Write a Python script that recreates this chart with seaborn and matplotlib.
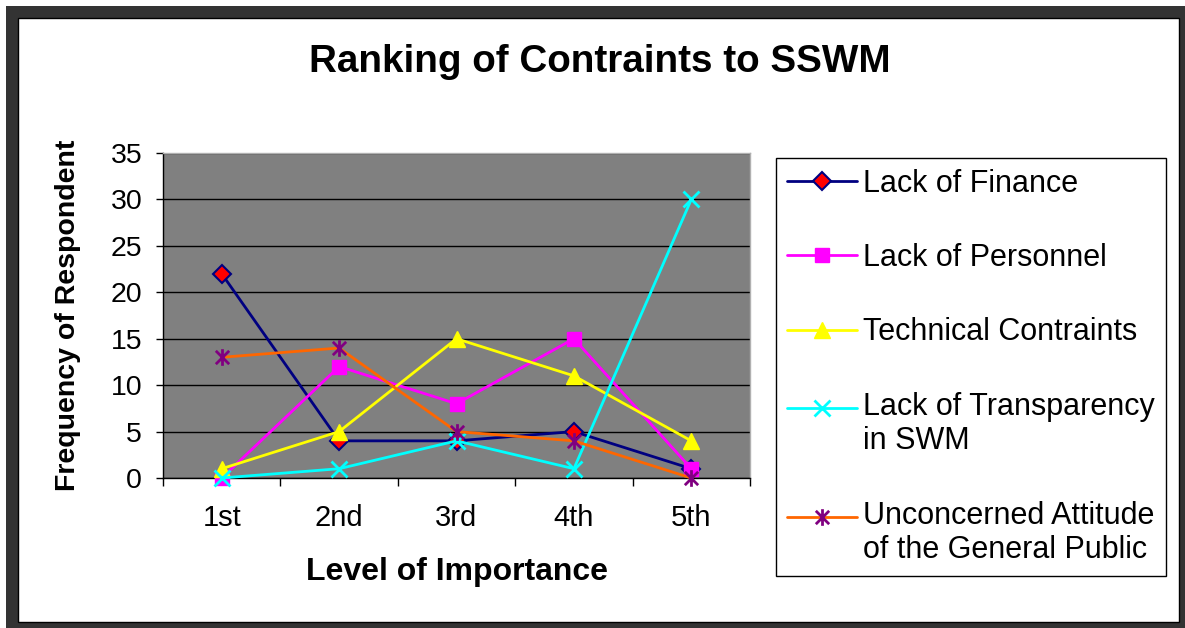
import matplotlib
matplotlib.use('Agg')
import matplotlib.pyplot as plt
import seaborn as sns
from matplotlib.patches import Rectangle
from matplotlib.path import Path
from matplotlib.legend_handler import HandlerLine2D

# ---- data ----
levels = ['1st', '2nd', '3rd', '4th', '5th']
lack_of_finance = [22, 4, 4, 5, 1]
lack_of_personnel = [0, 12, 8, 15, 1]
technical_contraints = [1, 5, 15, 11, 4]
lack_of_transparency = [0, 1, 4, 1, 30]
unconcerned_attitude = [13, 14, 5, 4, 0]
series_labels = ['Lack of Finance', 'Lack of Personnel', 'Technical Contraints',
                 'Lack of Transparency\nin SWM', 'Unconcerned Attitude\nof the General Public']
y_ticks = [0, 5, 10, 15, 20, 25, 30, 35]
title = 'Ranking of Contraints to SSWM'
x_label = 'Level of Importance'
y_label = 'Frequency of Respondent'

sns.set_theme(style='white')
plt.rcParams['font.family'] = ['Liberation Sans', 'DejaVu Sans']
for k in ['text.color', 'axes.labelcolor', 'xtick.color', 'ytick.color']:
    plt.rcParams[k] = 'black'

W, H = 1185, 628
fig = plt.figure(figsize=(W / 100, H / 100), dpi=100)
fig.patch.set_facecolor('white')

# outer frame
fig.patches.append(Rectangle((6 / W, 0), (W - 6) / W, (H - 6) / H, transform=fig.transFigure,
                             facecolor='#333333', edgecolor='none', zorder=-10))
fig.patches.append(Rectangle((18 / W, 1 - 622 / H), (1179 - 18) / W, (622 - 18) / H,
                             transform=fig.transFigure, facecolor='white',
                             edgecolor='black', linewidth=1, zorder=-9))

ax = fig.add_axes([163 / W, 1 - 478 / H, 587 / W, 325 / H])
ax.set_facecolor('#808080')

asterisk = Path([(0, -1), (0, 1), (-0.8, -0.8), (0.8, 0.8), (-0.8, 0.8), (0.8, -0.8)],
                [Path.MOVETO, Path.LINETO] * 3)

xpos = list(range(len(levels)))
styles = [
    dict(values=lack_of_finance, color='#000080', marker='D', ms=9, mfc='#FF0000', mec='#000080', mew=1.5),
    dict(values=lack_of_personnel, color='#FF00FF', marker='s', ms=10, mfc='#FF00FF', mec='#FF00FF', mew=1),
    dict(values=technical_contraints, color='#FFFF00', marker='^', ms=12, mfc='#FFFF00', mec='#FFFF00', mew=1),
    dict(values=lack_of_transparency, color='#00FFFF', marker='x', ms=11, mfc='none', mec='#00FFFF', mew=2),
    dict(values=unconcerned_attitude, color='#FF6600', marker=asterisk, ms=12, mfc='none', mec='#800080', mew=2),
]
for st, lab in zip(styles, series_labels):
    sns.lineplot(x=xpos, y=st['values'], ax=ax, color=st['color'], linewidth=2,
                 marker=st['marker'], markersize=st['ms'], markerfacecolor=st['mfc'],
                 markeredgecolor=st['mec'], markeredgewidth=st['mew'], label=lab,
                 clip_on=False, zorder=3)

ax.set_xlim(-0.5, len(levels) - 0.5)
ax.set_ylim(0, 35)
ax.set_yticks(y_ticks)
ax.set_yticklabels([str(v) for v in y_ticks], fontsize=20.5)
ax.set_xticks([i - 0.5 for i in range(len(levels) + 1)])
ax.set_xticklabels([''] * (len(levels) + 1))
ax.set_xticks(xpos, minor=True)
ax.set_xticklabels(levels, minor=True, fontsize=21)
ax.tick_params(axis='x', which='major', direction='out', length=6, width=1, color='black', bottom=True)
ax.tick_params(axis='x', which='minor', length=0, pad=19, bottom=True)
ax.tick_params(axis='y', which='major', direction='out', length=5, width=1, color='black', left=True, pad=10)
ax.grid(axis='y', color='black', linewidth=1)
ax.grid(axis='x', visible=False)
for s in ['left', 'bottom']:
    ax.spines[s].set_color('black')
    ax.spines[s].set_linewidth(1)
for s in ['top', 'right']:
    ax.spines[s].set_color('#b0b0b0')
    ax.spines[s].set_linewidth(1)

ax.set_xlabel(x_label, fontsize=23, fontweight='bold', va='center')
ax.xaxis.set_label_coords(0.5, -(572 - 478) / 325)
ax.set_ylabel(y_label, fontsize=20.5, fontweight='bold', va='center', ha='center')
ax.yaxis.set_label_coords(-(163 - 68) / 587, 0.5)

fig.text(600 / W, 1 - 62 / H, title, fontsize=27.8, fontweight='bold', ha='center', va='center')


class FirstLineHandler(HandlerLine2D):
    """Align legend handle with the first line of a two-line label."""
    def __init__(self, shift, **kw):
        super().__init__(**kw)
        self.shift = shift

    def create_artists(self, legend, orig_handle, xdescent, ydescent, width, height, fontsize, trans):
        arts = super().create_artists(legend, orig_handle, xdescent, ydescent, width, height, fontsize, trans)
        for a in arts:
            a.set_ydata([y + self.shift * fontsize for y in a.get_ydata()])
        return arts


handles, labels = ax.get_legend_handles_labels()
hmap = {handles[3]: FirstLineHandler(0.55), handles[4]: FirstLineHandler(0.55)}
ax.legend(handles, labels, loc='upper left', bbox_to_anchor=(776 / W, 1 - 158 / H),
          bbox_transform=fig.transFigure, frameon=True, fancybox=False, shadow=False,
          edgecolor='black', facecolor='white', framealpha=1, fontsize=22,
          handlelength=2.3, handletextpad=0.2, labelspacing=1.45, borderpad=0.35,
          borderaxespad=0, handler_map=hmap)
ax.get_legend().get_frame().set_linewidth(1)

fig.savefig('out.png', dpi=100)
